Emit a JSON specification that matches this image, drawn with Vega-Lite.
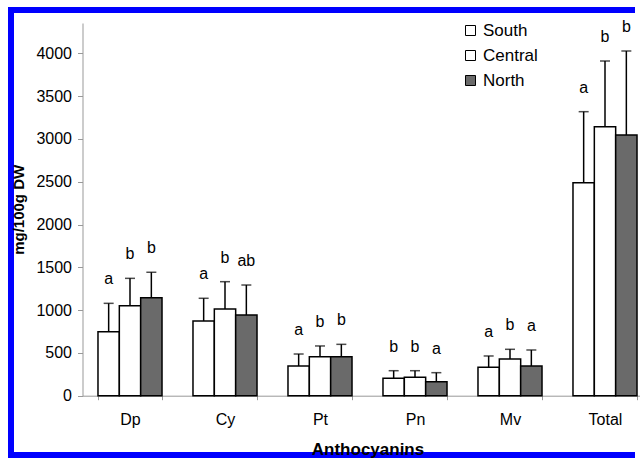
{
  "$schema": "https://vega.github.io/schema/vega-lite/v6.json",
  "autosize": {"type": "none"},
  "width": 629,
  "height": 445,
  "padding": {"left": 11, "top": 10, "right": 0, "bottom": 3},
  "background": "white",
  "config": {
    "view": {"stroke": "#0000ff", "strokeWidth": 6, "strokeDash": [1693, 455], "strokeDashOffset": 1069, "fill": "white"},
    "font": "Liberation Sans",
    "text": {"font": "Liberation Sans"}
  },
  "data": {
    "values": [
      {"compound": "Dp", "region": "South", "mean": 748, "err": 1079, "sig": "a"},
      {"compound": "Dp", "region": "Central", "mean": 1051, "err": 1371, "sig": "b"},
      {"compound": "Dp", "region": "North", "mean": 1145, "err": 1442, "sig": "b"},
      {"compound": "Cy", "region": "South", "mean": 873, "err": 1138, "sig": "a"},
      {"compound": "Cy", "region": "Central", "mean": 1013, "err": 1332, "sig": "b"},
      {"compound": "Cy", "region": "North", "mean": 943, "err": 1293, "sig": "ab"},
      {"compound": "Pt", "region": "South", "mean": 347, "err": 487, "sig": "a"},
      {"compound": "Pt", "region": "Central", "mean": 456, "err": 581, "sig": "b"},
      {"compound": "Pt", "region": "North", "mean": 456, "err": 600, "sig": "b"},
      {"compound": "Pn", "region": "South", "mean": 203, "err": 292, "sig": "b"},
      {"compound": "Pn", "region": "Central", "mean": 215, "err": 292, "sig": "b"},
      {"compound": "Pn", "region": "North", "mean": 164, "err": 269, "sig": "a"},
      {"compound": "Mv", "region": "South", "mean": 332, "err": 464, "sig": "a"},
      {"compound": "Mv", "region": "Central", "mean": 429, "err": 542, "sig": "b"},
      {"compound": "Mv", "region": "North", "mean": 347, "err": 534, "sig": "a"},
      {"compound": "Total", "region": "South", "mean": 2488, "err": 3318, "sig": "a"},
      {"compound": "Total", "region": "Central", "mean": 3143, "err": 3910, "sig": "b"},
      {"compound": "Total", "region": "North", "mean": 3046, "err": 4027, "sig": "b"}
    ]
  },
  "encoding": {
    "x": {
      "field": "compound",
      "type": "nominal",
      "sort": ["Dp", "Cy", "Pt", "Pn", "Mv", "Total"],
      "scale": {"range": [71.5, 641.5], "paddingInner": 0.326, "paddingOuter": 0.163},
      "axis": {
        "orient": "bottom",
        "offset": -59.3,
        "labelAngle": 0,
        "tickBand": "extent",
        "tickSize": 4,
        "tickColor": "#999999",
        "domainColor": "#999999",
        "labelFontSize": 16,
        "labelColor": "black",
        "labelPadding": 12,
        "title": "Anthocyanins",
        "titleFontSize": 17,
        "titleFontWeight": "bold",
        "titleColor": "black",
        "titlePadding": 14
      }
    },
    "xOffset": {
      "field": "region",
      "type": "nominal",
      "sort": ["South", "Central", "North"],
      "scale": {"paddingInner": 0, "paddingOuter": 0}
    }
  },
  "layer": [
    {
      "mark": {"type": "bar", "stroke": "black", "strokeWidth": 1.5},
      "encoding": {
        "y": {
          "field": "mean",
          "type": "quantitative",
          "scale": {"domain": [0, 4354], "range": [385.7, 13], "nice": false},
          "axis": {
            "offset": -71.5,
            "values": [0, 500, 1000, 1500, 2000, 2500, 3000, 3500, 4000],
            "format": "d",
            "grid": false,
            "tickSize": 5,
            "tickColor": "#999999",
            "domainColor": "#999999",
            "labelFontSize": 16,
            "labelColor": "black",
            "labelPadding": 6,
            "title": "mg/100g DW",
            "titleFontSize": 15,
            "titleFontWeight": "bold",
            "titleColor": "black",
            "titlePadding": 9
          }
        },
        "fill": {
          "field": "region",
          "type": "nominal",
          "sort": ["South", "Central", "North"],
          "scale": {"domain": ["South", "Central", "North"], "range": ["#ffffff", "#ffffff", "#6a6a6a"]},
          "legend": {
            "orient": "none",
            "legendX": 451,
            "legendY": 12,
            "title": null,
            "symbolType": "square",
            "symbolSize": 100,
            "symbolStrokeColor": "black",
            "symbolStrokeWidth": 1,
            "labelFontSize": 17,
            "labelColor": "black",
            "labelOffset": 4,
            "rowPadding": 7
          }
        }
      }
    },
    {
      "mark": {"type": "rule", "stroke": "black", "strokeWidth": 1.5},
      "encoding": {
        "y": {"field": "mean", "type": "quantitative", "scale": {"domain": [0, 4354], "range": [385.7, 13], "nice": false}},
        "y2": {"field": "err"}
      }
    },
    {
      "mark": {"type": "tick", "orient": "horizontal", "size": 10, "thickness": 1.5, "color": "black"},
      "encoding": {
        "y": {"field": "err", "type": "quantitative", "scale": {"domain": [0, 4354], "range": [385.7, 13], "nice": false}}
      }
    },
    {
      "mark": {"type": "text", "baseline": "middle", "dy": -24, "fontSize": 16, "color": "black"},
      "encoding": {
        "y": {"field": "err", "type": "quantitative", "scale": {"domain": [0, 4354], "range": [385.7, 13], "nice": false}},
        "text": {"field": "sig"}
      }
    }
  ]
}
